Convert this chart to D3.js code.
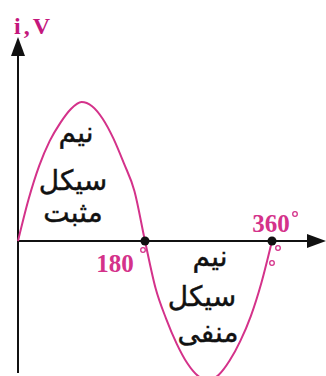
<!DOCTYPE html>
<html>
<head>
<meta charset="utf-8">
<script src="https://cdn.jsdelivr.net/npm/d3@7"></script>
<style>
  html, body { margin: 0; padding: 0; background: #fff; }
  svg { display: block; }
</style>
</head>
<body>
<svg id="chart" width="326" height="376"></svg>
<script>
// One full cycle of an alternating quantity: phase angle (degrees) and relative amplitude
const angles = [0, 15, 30, 45, 60, 75, 90, 105, 120, 135, 150, 165, 180,
                195, 210, 225, 240, 255, 270, 285, 300, 315, 330, 345, 360];
const values = [0, 0.30, 0.54, 0.72, 0.85, 0.95, 1.0, 0.97, 0.88, 0.74, 0.56, 0.36, 0,
                -0.34, -0.56, -0.74, -0.88, -0.97, -1.0, -0.96, -0.86, -0.72, -0.54, -0.30, 0];

// Marked angles on the horizontal axis and their labels
const markAngles = [180, 360];
const markLabels = ["180", "360"];

// Half-cycle captions (Persian)
const positiveCaption = ["نیم", "سیکل", "مثبت"];
const negativeCaption = ["نیم", "سیکل", "منفی"];

const axisLabel = "i,V";

const pink = "#d4328a";
const svg = d3.select("#chart");

const x = d3.scaleLinear().domain([0, 360]).range([18, 272]);
const y = d3.scaleLinear().domain([-1, 1]).range([380, 102]);

const points = angles.map((a, i) => ({ a, v: values[i] }));

// Axes with arrowheads
const x0 = x(0), y0 = y(0);
svg.append("line")
  .attr("x1", x0).attr("y1", 373).attr("x2", x0).attr("y2", 50)
  .attr("stroke", "#111").attr("stroke-width", 2);
svg.append("path")
  .attr("d", `M${x0},37 L${x0 - 7},56 L${x0 + 7},56 Z`)
  .attr("fill", "#111");

svg.append("line")
  .attr("x1", x0).attr("y1", y0).attr("x2", 312).attr("y2", y0)
  .attr("stroke", "#111").attr("stroke-width", 2);
svg.append("path")
  .attr("d", `M326,${y0} L307,${y0 - 7} L307,${y0 + 7} Z`)
  .attr("fill", "#111");

// The waveform
const line = d3.line()
  .x(d => x(d.a))
  .y(d => y(d.v))
  .curve(d3.curveMonotoneX);

svg.append("path")
  .datum(points)
  .attr("d", line)
  .attr("fill", "none")
  .attr("stroke", pink)
  .attr("stroke-width", 2);

// Zero-crossing dots
svg.selectAll("circle.mark")
  .data(markAngles)
  .join("circle")
  .attr("class", "mark")
  .attr("cx", d => x(d))
  .attr("cy", y0)
  .attr("r", 4.5)
  .attr("fill", "#111");

// Angle labels
const labelPos = [
  { dx: -30, dy: 31 },
  { dx: -1, dy: -9 }
];
markAngles.forEach((a, i) => {
  const p = labelPos[i];
  svg.append("text")
    .attr("x", x(a) + p.dx)
    .attr("y", y0 + p.dy)
    .attr("text-anchor", "middle")
    .attr("font-family", "Liberation Serif, serif")
    .attr("font-weight", "bold")
    .attr("font-size", 25)
    .attr("fill", pink)
    .text(markLabels[i]);
});
// degree rings
const rings = [[143, 250], [295, 214], [278, 248], [272, 263]];
svg.selectAll("circle.deg")
  .data(rings)
  .join("circle")
  .attr("class", "deg")
  .attr("cx", d => d[0]).attr("cy", d => d[1])
  .attr("r", 2.3)
  .attr("fill", "none")
  .attr("stroke", pink)
  .attr("stroke-width", 1.3);

// Axis label
svg.append("text")
  .attr("x", 14).attr("y", 34)
  .attr("font-family", "Liberation Serif, serif")
  .attr("font-weight", "bold")
  .attr("font-size", 24)
  .attr("letter-spacing", 3)
  .attr("fill", "#c4177c")
  .text(axisLabel);

// Captions inside each half cycle
function caption(lines, cx, baselines) {
  lines.forEach((s, i) => {
    svg.append("text")
      .attr("x", cx[i]).attr("y", baselines[i])
      .attr("text-anchor", "middle")
      .attr("direction", "rtl")
      .attr("font-family", "DejaVu Sans, sans-serif")
      .attr("font-size", 28)
      .attr("fill", "#111")
      .attr("stroke", "#111")
      .attr("stroke-width", 0.4)
      .text(s);
  });
}
caption(positiveCaption, [76, 73, 73], [142, 190, 222]);
caption(negativeCaption, [210, 202, 208], [266, 306, 342]);
</script>
</body>
</html>
